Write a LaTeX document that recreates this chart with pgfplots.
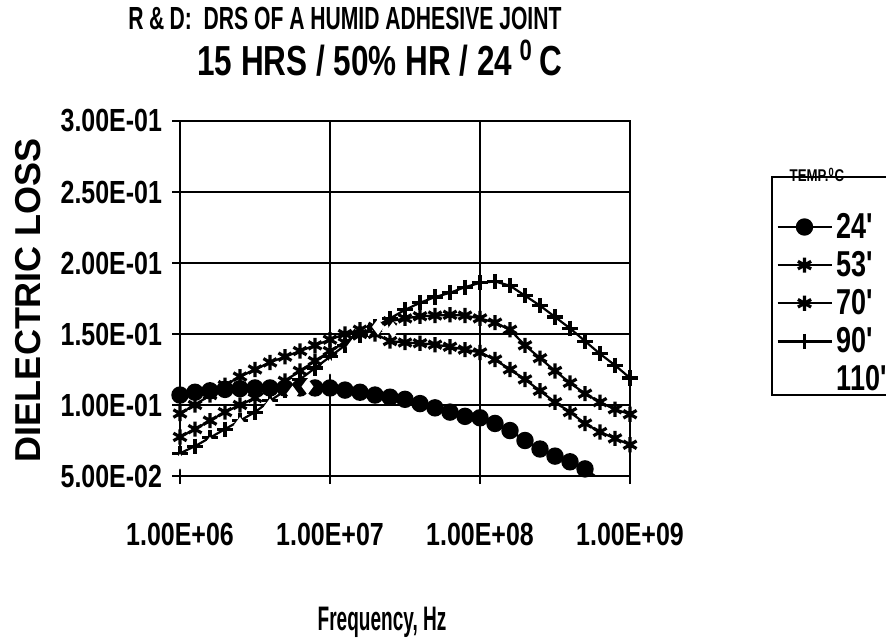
\documentclass[border=0pt]{standalone}
\usepackage{fontspec}
\setmainfont{Liberation Sans}
\newfontfamily\condA[FakeStretch=0.78]{Liberation Sans}
\newfontfamily\condT[FakeStretch=0.66]{Liberation Sans}
\newfontfamily\condS[FakeStretch=0.75]{Liberation Sans}
\newfontfamily\condB[FakeStretch=0.56]{Liberation Sans}
\usepackage{pgfplots}
\pgfplotsset{compat=1.18}
\begin{document}
\begin{tikzpicture}
\path[use as bounding box, fill=white] (-90pt,-80.5pt) rectangle (353pt,238pt);
\draw[black, line width=0.6pt] (296pt,40.5pt) rectangle (360pt,149.5pt);
\begin{axis}[at={(0,0)}, anchor=south west, scale only axis,
  width=225pt, height=177.5pt,
  xmin=6, xmax=9, ymin=0.05, ymax=0.30,
  xtick={6,7,8,9}, xticklabels={1.00E+06,1.00E+07,1.00E+08,1.00E+09},
  ytick={0.05,0.10,0.15,0.20,0.25,0.30},
  yticklabels={5.00E-02,1.00E-01,1.50E-01,2.00E-01,2.50E-01,3.00E-01},
  grid=major, major grid style={black, line width=0.6pt},
  axis line style={black, line width=0.7pt},
  tick style={black, line width=0.6pt},
  tick align=outside, major tick length=4pt, xtick pos=bottom, ytick pos=left,
  ticklabel style={font=\condA\bfseries\fontsize{16}{16}\selectfont},
  yticklabel style={xshift=-1.5pt},
  xticklabel style={yshift=-16pt},
  legend style={at={(298pt,138pt)}, anchor=north west, draw=none, fill=none,
     font=\condS\bfseries\fontsize{18}{18}\selectfont, row sep=1pt,
     inner xsep=0pt, inner ysep=0pt, nodes={inner sep=2pt}},
  legend cell align=left,
  legend image code/.code={\draw[mark repeat=2,mark phase=2,#1] plot coordinates {(0pt,0pt) (13.5pt,0pt) (27pt,0pt)};},
]
% 24 C
\addplot[black, line width=1.1pt, mark=*, mark size=3.8pt] coordinates {
(6.0,0.107)(6.1,0.109)(6.2,0.110)(6.3,0.111)(6.4,0.1115)(6.5,0.112)(6.6,0.112)(6.7,0.112)
(6.8,0.112)(6.9,0.112)(7.0,0.112)(7.1,0.1105)(7.2,0.109)(7.3,0.107)(7.4,0.1055)(7.5,0.104)
(7.6,0.101)(7.7,0.098)(7.8,0.095)(7.9,0.092)(8.0,0.091)(8.1,0.087)(8.2,0.082)(8.3,0.075)
(8.4,0.069)(8.5,0.064)(8.6,0.060)(8.7,0.055)(8.78,0.049)(8.85,0.044)};
\addlegendentry{24'}
% 53 C
\addplot[black, line width=1.1pt, mark=asterisk, mark size=3.8pt, mark options={line width=1.6pt}] coordinates {
(6.0,0.094)(6.1,0.100)(6.2,0.107)(6.3,0.114)(6.4,0.120)(6.5,0.125)(6.6,0.130)(6.7,0.134)
(6.8,0.138)(6.9,0.142)(7.0,0.146)(7.1,0.150)(7.2,0.153)(7.3,0.150)(7.4,0.145)(7.5,0.144)
(7.6,0.1435)(7.7,0.1425)(7.8,0.141)(7.9,0.139)(8.0,0.137)(8.1,0.132)(8.2,0.125)(8.3,0.118)
(8.4,0.110)(8.5,0.102)(8.6,0.095)(8.7,0.087)(8.8,0.081)(8.9,0.0765)(9.0,0.072)(9.05,0.050)};
\addlegendentry{53'}
% 70 C
\addplot[black, line width=1.1pt, mark=asterisk, mark size=3.8pt, mark options={line width=1.6pt}] coordinates {
(6.0,0.0775)(6.1,0.083)(6.2,0.089)(6.3,0.095)(6.4,0.100)(6.5,0.105)(6.6,0.111)(6.7,0.117)
(6.8,0.124)(6.9,0.131)(7.0,0.138)(7.1,0.144)(7.2,0.150)(7.3,0.155)(7.4,0.159)(7.5,0.161)
(7.6,0.1625)(7.7,0.163)(7.8,0.1635)(7.9,0.163)(8.0,0.161)(8.1,0.158)(8.2,0.153)(8.3,0.142)
(8.4,0.133)(8.5,0.124)(8.6,0.1156)(8.7,0.108)(8.8,0.102)(8.9,0.097)(9.0,0.0935)(9.05,0.070)};
\addlegendentry{70'}
% 90 C
\addplot[black, line width=1.1pt, mark=+, mark size=3.8pt, mark options={line width=1.6pt}] coordinates {
(6.0,0.066)(6.1,0.071)(6.2,0.077)(6.3,0.083)(6.4,0.089)(6.5,0.095)(6.6,0.103)(6.7,0.110)
(6.8,0.118)(6.9,0.126)(7.0,0.134)(7.1,0.142)(7.2,0.149)(7.3,0.155)(7.4,0.161)(7.5,0.167)
(7.6,0.172)(7.7,0.176)(7.8,0.179)(7.9,0.183)(8.0,0.186)(8.1,0.187)(8.2,0.184)(8.3,0.177)
(8.4,0.170)(8.5,0.162)(8.6,0.154)(8.7,0.145)(8.8,0.136)(8.9,0.128)(9.0,0.119)(9.05,0.095)};
\addlegendentry{90'}
% 110 C (white line, white diamonds)
\addplot[white, line width=0.8pt, mark=diamond*, mark size=3.3pt, mark options={fill=white, draw=white}] coordinates {
(6.0,0.060)(6.2,0.072)(6.4,0.086)(6.6,0.099)(6.75,0.108)(6.85,0.113)(7.0,0.127)(7.15,0.141)
(7.32,0.155)(7.42,0.153)};
\addlegendentry{110'}
\end{axis}
\node[font=\condT\bfseries\fontsize{16}{16}\selectfont] at (82.5pt,229pt) {R\,\&\,D:~ DRS OF A HUMID ADHESIVE JOINT};
\node[font=\condS\bfseries\fontsize{21}{21}\selectfont] at (100pt,209pt) {15 HRS / 50\% HR / 24\,\textsuperscript{0}\,C};
\node[font=\bfseries\fontsize{18}{18}\selectfont, rotate=90] at (-76pt,88pt) {DIELECTRIC LOSS};
\node[font=\condB\bfseries\fontsize{17}{17}\selectfont] at (101pt,-73pt) {Frequency, Hz};
\node[font=\condA\bfseries\fontsize{8.5}{8.5}\selectfont, anchor=base] at (318.5pt,147pt) {TEMP.\textsuperscript{0}C};
\end{tikzpicture}
\end{document}
